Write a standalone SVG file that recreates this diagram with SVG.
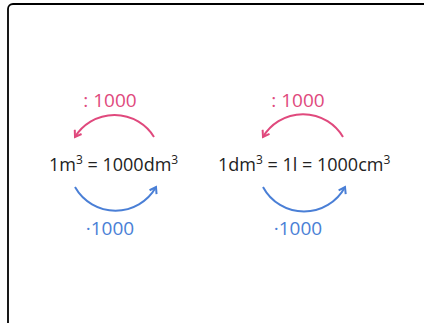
<svg xmlns="http://www.w3.org/2000/svg" width="424" height="323" viewBox="0 0 424 323">
<style>
.t{font-family:"Open Sans","Noto Sans",sans-serif;fill:#222;font-size:18px}
.p{font-family:"Open Sans","Noto Sans",sans-serif;fill:#e0497d;font-size:19px}
.b{font-family:"Open Sans","Noto Sans",sans-serif;fill:#4a7fd6;font-size:19px}
.ap{fill:none;stroke:#e0497d;stroke-width:2}
.ab{fill:none;stroke:#4a7fd6;stroke-width:2}
</style>
<defs>
<marker id="mp" markerWidth="10" markerHeight="10" refX="7" refY="5" orient="auto" markerUnits="userSpaceOnUse">
<path d="M1,1 L7,5 L1,9" fill="none" stroke="#e0497d" stroke-width="2"/>
</marker>
<marker id="mb" markerWidth="10" markerHeight="10" refX="7" refY="5" orient="auto" markerUnits="userSpaceOnUse">
<path d="M1,1 L7,5 L1,9" fill="none" stroke="#4a7fd6" stroke-width="2"/>
</marker>
</defs>
<rect x="8" y="4" width="440" height="330" rx="5" fill="#fff" stroke="#000" stroke-width="1.8"/>
<g id="connectors">
<path class="ap" d="M154,137 A46.5,46.5 0 0 0 75,137" marker-end="url(#mp)"/>
<path class="ab" d="M75,187 A46.5,46.5 0 0 0 156,187" marker-end="url(#mb)"/>
<path class="ap" d="M343,137 A46.5,46.5 0 0 0 263,137" marker-end="url(#mp)"/>
<path class="ab" d="M263,187 A46.5,46.5 0 0 0 345,187" marker-end="url(#mb)"/>
</g>
<g id="left">
<text class="p" x="110" y="107" text-anchor="middle">: 1000</text>
<text class="t" x="49" y="171">1m<tspan font-size="12" dy="-7">3</tspan><tspan dy="7"> = 1000dm</tspan><tspan font-size="12" dy="-7">3</tspan></text>
<text class="b" x="110" y="235" text-anchor="middle">·1000</text>
</g>
<g id="right">
<text class="p" x="298" y="107" text-anchor="middle">: 1000</text>
<text class="t" x="218" y="171">1dm<tspan font-size="12" dy="-7">3</tspan><tspan dy="7"> = 1l = 1000cm</tspan><tspan font-size="12" dy="-7">3</tspan></text>
<text class="b" x="298" y="235" text-anchor="middle">·1000</text>
</g>
</svg>
